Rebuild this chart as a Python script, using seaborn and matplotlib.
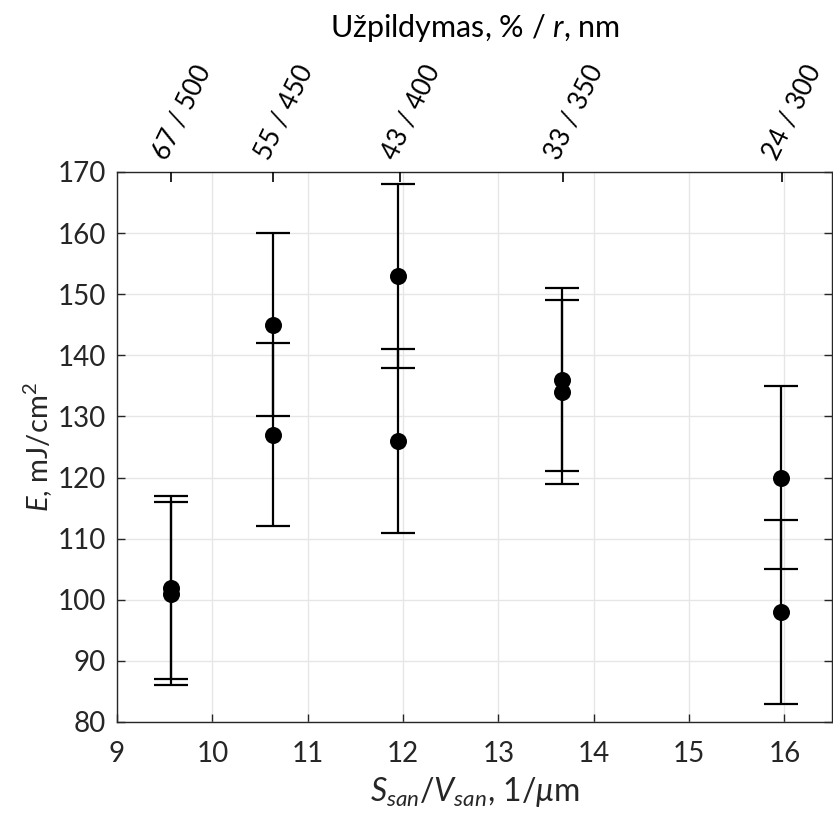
import matplotlib
matplotlib.use("Agg")
import matplotlib.pyplot as plt
import seaborn as sns
import pandas as pd

# ---- data ----
x_sv = [9.57, 9.57, 10.64, 10.64, 11.95, 11.95, 13.67, 13.67, 15.96, 15.96]
energy = [102, 101, 145, 127, 153, 126, 136, 134, 120, 98]
energy_err = [15, 15, 15, 15, 15, 15, 15, 15, 15, 15]
top_ticks = [9.57, 10.64, 11.97, 13.68, 15.97]
top_labels = ["67 / 500", "55 / 450", "43 / 400", "33 / 350", "24 / 300"]
x_ticks = [9, 10, 11, 12, 13, 14, 15, 16]
y_ticks = [80, 90, 100, 110, 120, 130, 140, 150, 160, 170]

sns.set_theme(style="ticks")
plt.rcParams['font.family'] = ['Lato', 'DejaVu Sans']
plt.rcParams['mathtext.fontset'] = 'custom'
plt.rcParams['mathtext.rm'] = 'Lato'
plt.rcParams['mathtext.it'] = 'Lato:italic'
plt.rcParams['mathtext.bf'] = 'Lato:bold'

dark = '#262626'
df = pd.DataFrame({'x': x_sv, 'E': energy, 'err': energy_err})

fig = plt.figure(figsize=(8.33, 8.15), dpi=100)
ax = fig.add_axes([117/833, 1-722/815, 1-117/833-0.001, (722-172)/815])

ax.errorbar(df['x'], df['E'], yerr=df['err'], fmt='none', ecolor='black',
            elinewidth=1.6, capsize=12, capthick=1.6, zorder=3)
sns.scatterplot(data=df, x='x', y='E', ax=ax, color='black', s=150,
                edgecolor='black', linewidth=0, zorder=4, legend=False)

ax.set_xlim(9, 16.5)
ax.set_ylim(80, 170)
ax.set_xticks(x_ticks)
ax.set_yticks(y_ticks)
ax.grid(True, color='#e6e6e6', linewidth=1.0)
ax.set_axisbelow(True)
ax.tick_params(axis='both', direction='in', length=6, width=1, colors=dark,
               labelsize=20, labelcolor=dark, right=True, top=True)
ax.tick_params(axis='x', pad=14)
ax.tick_params(axis='y', pad=8)
for s in ax.spines.values():
    s.set_color(dark)
    s.set_linewidth(1.0)
ax.set_xlabel(r'$S_{san}$/$V_{san}$, 1/$\mu$m', fontsize=23, color=dark)
ax.xaxis.set_label_coords(0.5, -0.097)
ax.set_ylabel(r'$E$, mJ/cm$^2$', fontsize=21, color=dark, labelpad=2)

ax2 = ax.twiny()
ax2.set_xlim(ax.get_xlim())
ax2.set_xticks(top_ticks)
ax2.set_xticklabels(top_labels, rotation=64, ha='left', va='bottom',
                    rotation_mode='anchor', fontsize=19, color='black')
ax2.tick_params(axis='x', direction='in', length=7, width=1.2, colors='black', pad=6)
for s in ax2.spines.values():
    s.set_visible(False)
ax2.set_xlabel('Užpildymas, % / $r$, nm', fontsize=22, color='black')
ax2.xaxis.set_label_coords(0.5, 1.245)

fig.savefig('out.png', dpi=100)
